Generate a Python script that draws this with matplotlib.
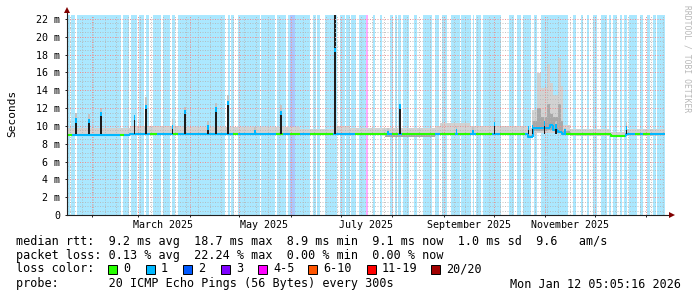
import datetime as dt

import matplotlib
matplotlib.use("Agg")
import matplotlib.dates as mdates
import matplotlib.pyplot as plt
import numpy as np
from matplotlib.collections import LineCollection
from matplotlib.colors import to_rgb
from matplotlib.patches import Rectangle
from matplotlib.ticker import FuncFormatter, MultipleLocator, NullFormatter

plt.rcParams['font.family'] = ['DejaVu Sans Mono']

# every time below is in days since 2025-01-01 00:00
t_start = 16.21
t_end = 376.21

# periods with no lost pings (white background), the rest lost 1 ping
clear_start = [18.0, 21.2, 48.7, 53.7, 58.3, 62.7, 65.7, 72.6, 78.2, 81.4,
               111.3, 114.3, 116.7, 132.4, 141.6, 148.0, 162.5, 166.1, 168.5,
               178.7, 183.5, 186.5, 190.2, 197.2, 201.6, 205.6, 212.6, 214.7,
               217.1, 222.1, 227.2, 235.7, 240.3, 244.9, 252.5, 259.4, 261.5,
               265.4, 277.5, 285.5, 289.5, 295.3, 299.1, 318.0, 322.6, 326.8,
               330.4, 335.3, 341.1, 343.9, 347.1, 350.3, 353.5, 359.1, 362.8,
               367.2, 370.8]
clear_end = [18.8, 22.0, 50.1, 54.7, 59.5, 63.8, 67.8, 73.8, 79.6, 82.8,
             113.4, 115.1, 119.1, 133.2, 142.4, 149.4, 164.5, 166.9, 171.5,
             180.6, 184.3, 187.3, 192.2, 200.2, 204.6, 210.6, 213.8, 215.6,
             218.6, 225.1, 230.5, 237.7, 241.8, 247.4, 253.4, 260.6, 262.7,
             266.6, 282.3, 287.1, 290.7, 297.3, 301.5, 321.0, 325.6, 329.1,
             332.6, 337.7, 342.7, 345.1, 349.1, 351.5, 354.7, 361.1, 365.2,
             369.2, 371.4]

# periods with heavier loss (index into loss_colors)
heavy_start = [150.4, 196.0]
heavy_end = [153.5, 197.2]
heavy_loss = [2, 4]

# median rtt (ms), step values starting at each day
med_day = [16.2, 54.1, 293.5, 296.7, 303.9, 307.0, 308.8, 311.8, 314.2, 343.7, 352.7]
med_val = [8.95, 9.05, 8.8, 9.72, 9.8, 10.1, 9.55, 9.3, 9.05, 8.87, 9.05]

# where the median line is drawn green (no loss)
green_start = [16.2, 48.1, 66.2, 80.0, 116.1, 142.0, 150.4, 162.5, 189.6, 211.8,
               217.7, 240.8, 251.6, 262.4, 276.9, 316.6, 358.1, 363.0]
green_end = [19.2, 50.5, 70.4, 83.0, 119.1, 146.2, 156.5, 176.3, 208.8, 215.5,
             237.7, 249.8, 258.8, 272.0, 291.9, 352.1, 361.1, 367.2]

# smoke: outer range and darker core (ms), step values starting at each day
smoke_day = [16.2, 54.1, 84.2, 156.5, 177.5, 186.6, 207.6, 237.7, 240.7, 258.8,
             293.1, 295.9, 298.9, 301.4, 305.0, 307.0, 308.9, 311.9, 313.4,
             315.0, 319.0, 343.1, 352.7]
smoke_lo = [8.85, 8.95, 8.95, 8.95, 8.95, 8.95, 8.8, 8.95, 8.95, 8.95,
            8.7, 9.0, 9.2, 9.2, 9.2, 9.2, 9.2, 9.1, 9.0, 8.95, 8.9, 8.75, 8.9]
smoke_hi = [9.8, 10.0, 9.85, 9.6, 9.95, 9.8, 9.75, 9.95, 10.3, 9.95,
            9.8, 11.8, 15.9, 14.2, 17.0, 14.8, 13.5, 17.6, 14.5, 10.1, 9.6, 9.35, 9.6]
core_lo = [8.95, 9.0, 9.0, 9.0, 9.0, 9.0, 8.8, 9.0, 9.0, 9.0,
           8.75, 9.4, 9.4, 9.4, 9.5, 9.5, 9.4, 9.3, 9.2, 9.0, 8.95, 8.75, 8.95]
core_hi = [9.1, 9.15, 9.15, 9.1, 9.15, 9.15, 9.1, 9.15, 9.2, 9.15,
           9.0, 10.6, 12.0, 11.0, 12.5, 11.3, 11.0, 12.5, 10.5, 9.4, 9.1, 8.95, 9.1]

# single-step spikes: day, median (ms), top of smoke (ms), smoke dense above median
spike_day = [21.6, 29.4, 36.7, 56.8, 63.8, 79.7, 87.2, 101.1, 105.9, 113.1,
             129.4, 145.0, 177.5, 209.4, 216.7, 250.7, 260.6, 273.6, 294.0,
             296.4, 303.7, 310.6, 316.0, 353.0]
spike_med = [10.75, 10.7, 11.5, 11.1, 12.25, 10.0, 11.7, 9.95, 12.0, 12.7,
             9.4, 11.6, 18.7, 9.35, 12.35, 9.5, 9.4, 10.35, 9.9, 10.0, 10.4,
             10.1, 9.5, 9.9]
spike_top = [11.4, 11.3, 12.0, 11.2, 13.2, 10.8, 12.1, 10.6, 12.6, 13.5,
             9.9, 12.3, 22.45, 9.8, 12.5, 10.0, 9.9, 10.9, 10.0, 10.6, 11.0,
             10.5, 9.8, 10.4]
spike_dense = [False] * 12 + [True] + [False] * 11

loss_colors = ['#26ff00', '#00b8ff', '#0059ff', '#7f00ff', '#ff00ff',
               '#ff5500', '#ff0000', '#a10000']
loss_labels = ['0', '1', '2', '3', '4-5', '6-10', '11-19', '20/20']

label_text = ['March 2025', 'May 2025', 'July 2025', 'September 2025', 'November 2025']
label_date = [dt.datetime(2025, m, 16) for m in (3, 5, 7, 9, 11)]

DAY0 = mdates.date2num(dt.datetime(2025, 1, 1))


def to_num(days):
    return DAY0 + np.asarray(days, dtype=float)


def pale(color, a=0.33):
    c = np.array(to_rgb(color))
    return tuple(1 - a * (1 - c))


W, H = 697, 297
fig = plt.figure(figsize=(W / 100, H / 100), dpi=100)
fig.patch.set_facecolor('white')
ax = fig.add_axes([67 / W, 82 / H, 598 / W, 200 / H])
ax.set_facecolor('white')
ax.set_xlim(to_num(t_start), to_num(t_end))
ax.set_ylim(0, 22.45)

# loss background
edges = [t_start]
for s, e in zip(clear_start, clear_end):
    edges += [s, e]
edges.append(t_end)
for s, e in zip(edges[0::2], edges[1::2]):
    ax.axvspan(to_num(s), to_num(e), color=pale(loss_colors[1]), lw=0, zorder=0.5)
for s, e, l in zip(heavy_start, heavy_end, heavy_loss):
    ax.axvspan(to_num(s), to_num(e), color=pale(loss_colors[l]), lw=0, zorder=0.6)

# smoke
sx = to_num(smoke_day + [t_end])
ax.fill_between(sx, smoke_lo + smoke_lo[-1:], smoke_hi + smoke_hi[-1:],
                step='post', color='#d2d2d2', lw=0, zorder=2)
ax.fill_between(sx, core_lo + core_lo[-1:], core_hi + core_hi[-1:],
                step='post', color='#a8a8a8', lw=0, zorder=2.1)

# median line, coloured by loss
cuts = sorted(set(med_day + green_start + green_end + [t_end]))
segs, cols = [], []
prev = None
for a, b in zip(cuts[:-1], cuts[1:]):
    mid = (a + b) / 2
    v = med_val[np.searchsorted(med_day, mid, side='right') - 1]
    green = any(s <= mid < e for s, e in zip(green_start, green_end))
    y0 = v if prev is None else prev
    segs.append([(to_num(a), y0), (to_num(a), v), (to_num(b), v)])
    cols.append(loss_colors[0] if green else loss_colors[1])
    prev = v
ax.add_collection(LineCollection(segs, colors=cols, linewidths=1.5,
                                 capstyle='butt', zorder=3))

# spikes
sd = to_num(spike_day)
sm = np.array(spike_med)
st = np.array(spike_top)
base = 9.1
w = 0.9
upper_col = ['#1c1c1c' if d else '#c4c4c4' for d in spike_dense]
ax.bar(sd, st - sm, bottom=sm, width=w, color=upper_col, lw=0, zorder=2.2)
dark = np.clip(sm - 0.35 - base, 0, None)
ax.bar(sd, dark, bottom=base, width=w, color='#1c1c1c', lw=0, zorder=3.2)
tip_lo = np.maximum(base, sm - 0.4)
ax.bar(sd, sm + 0.1 - tip_lo, bottom=tip_lo, width=w, color=loss_colors[1],
       lw=0, zorder=3.3)

# dotted grid
ax.set_axisbelow(False)
ax.xaxis.set_major_locator(mdates.MonthLocator())
ax.xaxis.set_minor_locator(mdates.WeekdayLocator(byweekday=mdates.SU))
ax.xaxis.set_major_formatter(NullFormatter())
ax.yaxis.set_major_locator(MultipleLocator(2))
ax.yaxis.set_minor_locator(MultipleLocator(0.5))
ax.yaxis.set_major_formatter(FuncFormatter(lambda v, p: '0' if v == 0 else f'{v:.0f} m'))
ax.grid(which='major', color='#ee9090', lw=0.72, ls=(0, (1, 1.5)))
ax.grid(which='minor', color='#b4b4b4', alpha=0.8, lw=0.72, ls=(0, (1, 1.5)))
ax.tick_params(which='major', length=1.5, width=0.7, color='#202020',
               labelsize=7.2, pad=3.6)
ax.tick_params(which='minor', length=0)
for sp in ax.spines.values():
    sp.set_visible(False)

# axes with arrows
ax.plot([0, 0], [0, 1 + 4 / 200], transform=ax.transAxes, color='#202020',
        lw=0.8, clip_on=False, zorder=5)
ax.plot([0, 1 + 5 / 598], [0, 0], transform=ax.transAxes, color='#202020',
        lw=0.8, clip_on=False, zorder=5)
ax.plot([0], [1 + 5 / 200], marker='^', ms=4.5, color='#800000', mew=0,
        transform=ax.transAxes, clip_on=False, zorder=6)
ax.plot([1 + 7 / 598], [0], marker='>', ms=4.5, color='#800000', mew=0,
        transform=ax.transAxes, clip_on=False, zorder=6)

for t, d in zip(label_text, label_date):
    ax.text(mdates.date2num(d), -10 / 200, t, ha='center', va='center',
            fontsize=7.2, transform=ax.get_xaxis_transform())


def fx(x):
    return x / W


def fy(y):
    return 1 - y / H


fig.text(fx(12), fy(113), 'Seconds', rotation=90, ha='center', va='center', fontsize=8)
fig.text(fx(687), fy(5), 'RRDTOOL / TOBI OETIKER', rotation=270, ha='center',
         va='top', fontsize=5.8, color='#b8b8b8')

fs = 8.5
fig.text(fx(16), fy(241), 'median rtt:  9.2 ms avg  18.7 ms max  8.9 ms min  '
         '9.1 ms now  1.0 ms sd  9.6   am/s', ha='left', va='center', fontsize=fs)
fig.text(fx(16), fy(255), 'packet loss: 0.13 % avg  22.24 % max  0.00 % min  '
         '0.00 % now', ha='left', va='center', fontsize=fs)
fig.text(fx(16), fy(269), 'loss color:', ha='left', va='center', fontsize=fs)
box_x = [108, 146, 183, 221, 258, 308, 367, 431]
for bx, c, lab in zip(box_x, loss_colors, loss_labels):
    fig.add_artist(Rectangle((fx(bx), fy(273.5)), 9 / W, 9 / H, facecolor=c,
                             edgecolor='black', lw=0.7, transform=fig.transFigure))
    fig.text(fx(bx + 15), fy(269), lab, ha='left', va='center', fontsize=fs)
fig.text(fx(16), fy(284), 'probe:       20 ICMP Echo Pings (56 Bytes) every 300s',
         ha='left', va='center', fontsize=fs)
fig.text(fx(681), fy(284), 'Mon Jan 12 05:05:16 2026', ha='right', va='center',
         fontsize=fs)

fig.savefig('out.png', dpi=100, facecolor='white')
